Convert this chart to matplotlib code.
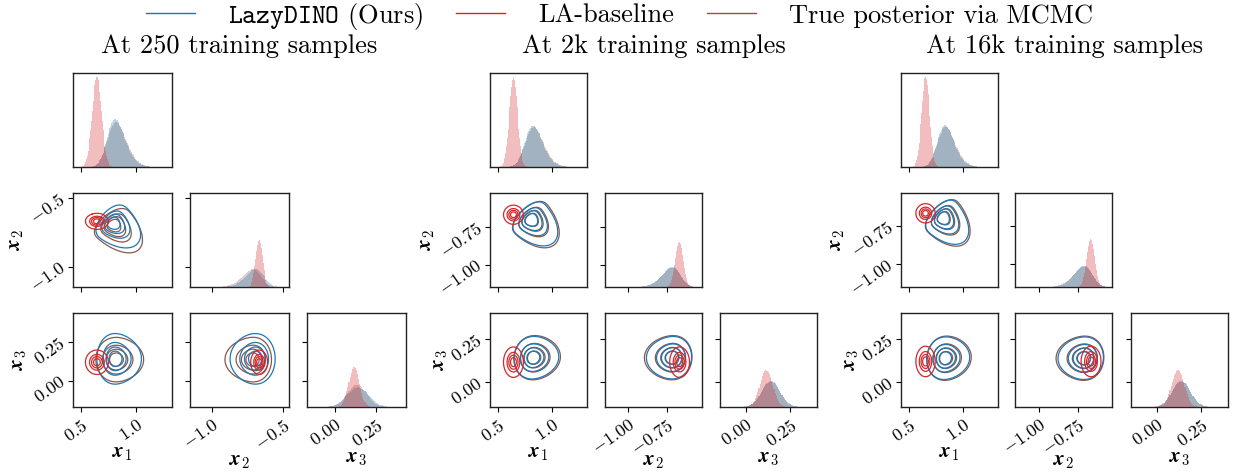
import math
import numpy as np
import matplotlib
matplotlib.use("Agg")
import matplotlib.pyplot as plt
from matplotlib.lines import Line2D

plt.rcParams['mathtext.fontset'] = 'cm'
plt.rcParams['font.family'] = 'serif'
plt.rcParams['font.serif'] = ['cmr10']
plt.rcParams['axes.formatter.use_mathtext'] = True
plt.rcParams['axes.unicode_minus'] = False

# ---- posterior summaries (mode, scale, correlation r12 r13 r23, skew shape) ----
panel_titles = ["At 250 training samples", "At 2k training samples", "At 16k training samples"]
method_labels = [r"$\mathtt{LazyDINO}$ (Ours)", "LA-baseline", "True posterior via MCMC"]
method_colors = ["#1f77b4", "#d62728", "#8c564b"]

mode_lazydino = [[0.79, -0.680, 0.140], [0.805, -0.700, 0.140], [0.815, -0.695, 0.137]]
scale_lazydino = [[0.115, 0.085, 0.066], [0.115, 0.082, 0.050], [0.110, 0.082, 0.050]]
corr_lazydino = [[-0.55, 0.0, 0.0], [-0.55, 0.05, 0.0], [-0.55, 0.05, 0.0]]
shape_lazydino = [[2.5, -2.0, 0.0], [2.5, -2.5, 0.0], [2.5, -2.5, 0.0]]

mode_la = [[0.645, -0.668, 0.118], [0.645, -0.668, 0.115], [0.655, -0.665, 0.119]]
scale_la = [[0.042, 0.024, 0.032], [0.037, 0.026, 0.036], [0.036, 0.026, 0.036]]
corr_la = [[0.0, 0.0, 0.0], [0.0, 0.0, 0.0], [0.0, 0.0, 0.0]]
shape_la = [[0.0, 0.0, 0.0], [0.0, 0.0, 0.0], [0.0, 0.0, 0.0]]

mode_mcmc = [[0.79, -0.690, 0.135], [0.805, -0.700, 0.140], [0.815, -0.695, 0.137]]
scale_mcmc = [[0.120, 0.095, 0.058], [0.118, 0.088, 0.052], [0.113, 0.088, 0.052]]
corr_mcmc = [[-0.6, 0.0, 0.0], [-0.55, 0.05, 0.0], [-0.55, 0.05, 0.0]]
shape_mcmc = [[2.5, -3.0, 0.0], [2.5, -2.8, 0.0], [2.5, -2.8, 0.0]]

# axis limits and ticks for x1, x2, x3 in each panel
lims = [
    [(0.43, 1.32), (-1.15, -0.46), (-0.17, 0.435)],
    [(0.43, 1.32), (-1.15, -0.523), (-0.145, 0.40)],
    [(0.43, 1.32), (-1.155, -0.53), (-0.145, 0.40)],
]
ticks = [
    [[0.5, 1.0], [-1.0, -0.5], [0.0, 0.25]],
    [[0.5, 1.0], [-1.0, -0.75], [0.0, 0.25]],
    [[0.5, 1.0], [-1.0, -0.75], [0.0, 0.25]],
]
tick_fmt = [["%.1f", "%.1f", "%.2f"], ["%.1f", "%.2f", "%.2f"], ["%.1f", "%.2f", "%.2f"]]
# height of the LA peak as a fraction of each diagonal panel
diag_peak_frac = [[0.96, 0.50, 0.43], [0.96, 0.48, 0.39], [0.96, 0.51, 0.39]]
var_labels = [r"$\boldsymbol{x}_1$", r"$\boldsymbol{x}_2$", r"$\boldsymbol{x}_3$"]

# evaluation grid (bin edges double as histogram bins)
edges = [np.arange(0.30, 1.45, 0.0075), np.arange(-1.30, -0.35, 0.0065), np.arange(-0.30, 0.55, 0.0065)]
centers = [0.5 * (e[1:] + e[:-1]) for e in edges]
masses = [0.95, 0.7125, 0.475, 0.2375]


def erf(x):
    s = np.sign(x)
    x = np.abs(x)
    t = 1.0 / (1.0 + 0.3275911 * x)
    y = 1.0 - (((((1.061405429 * t - 1.453152027) * t) + 1.421413741) * t - 0.284496736) * t + 0.254829592) * t * np.exp(-x * x)
    return s * y


def skew_normal(pts, loc, scale, corr, shape):
    r12, r13, r23 = corr
    R = np.array([[1, r12, r13], [r12, 1, r23], [r13, r23, 1]])
    Ri = np.linalg.inv(R)
    z = [(pts[0] - loc[0]) / scale[0], (pts[1] - loc[1]) / scale[1], (pts[2] - loc[2]) / scale[2]]
    z = [z[0][:, None, None], z[1][None, :, None], z[2][None, None, :]]
    q = 0
    lin = 0
    for i in range(3):
        lin = lin + shape[i] * z[i]
        for j in range(3):
            q = q + Ri[i, j] * z[i] * z[j]
    return np.exp(-0.5 * q) * (1 + erf(lin / math.sqrt(2)))


def density(mode, scale, corr, shape):
    s = np.linspace(-2.5, 2.5, 81)
    d0 = skew_normal([s, s, s], [0, 0, 0], [1, 1, 1], corr, shape)
    idx = np.unravel_index(np.argmax(d0), d0.shape)
    off = np.array([s[i] for i in idx])
    loc = np.array(mode) - off * np.array(scale)
    d = skew_normal(centers, loc, scale, corr, shape)
    return d / d.sum()


def iso_levels(p):
    flat = np.sort(p.ravel())[::-1]
    c = np.cumsum(flat) / flat.sum()
    lv = [flat[min(np.searchsorted(c, m), len(flat) - 1)] for m in masses]
    return sorted(lv)


W, H = 1239, 472
fig = plt.figure(figsize=(W / 100, H / 100), dpi=100)


def rect(left, top, w, h):
    return [left / W, 1 - (top + h) / H, w / W, h / H]


col_lefts = [[73, 190, 307], [490, 605, 720], [901, 1015, 1131]]
col_w = [99, 97, 97]
row_tops = [73, 193, 313]
row_h = 94
xlabel_y = [-0.50, -0.59, -0.55]
ylabel_x = [[-0.57, -0.54], [-0.64, -0.50], [-0.65, -0.50]]

params = [
    (mode_lazydino, scale_lazydino, corr_lazydino, shape_lazydino),
    (mode_la, scale_la, corr_la, shape_la),
    (mode_mcmc, scale_mcmc, corr_mcmc, shape_mcmc),
]
draw_order = [2, 0, 1]


def style_ticks(ax, axis, vals, fmt, labels):
    if axis == 'x':
        ax.set_xticks(vals)
        if labels:
            ax.set_xticklabels([r"$%s$" % (fmt % v) for v in vals], fontsize=13)
            for t in ax.get_xticklabels():
                t.set_rotation(35)
                t.set_rotation_mode('anchor')
                t.set_ha('right')
                t.set_va('top')
        else:
            ax.set_xticklabels([])
    else:
        ax.set_yticks(vals)
        if labels:
            ax.set_yticklabels([r"$%s$" % (fmt % v) for v in vals], fontsize=13)
            for t in ax.get_yticklabels():
                t.set_rotation(35)
                t.set_rotation_mode('anchor')
                t.set_ha('right')
                t.set_va('center')
        else:
            ax.set_yticklabels([])


for p in range(3):
    dens = []
    for k in range(3):
        mo, sc, co, sh = params[k]
        dens.append(density(mo[p], sc[p], co[p], sh[p]))
    lim = lims[p]
    for i in range(3):
        for j in range(i + 1):
            ax = fig.add_axes(rect(col_lefts[p][j], row_tops[i], col_w[p], row_h))
            for sp in ax.spines.values():
                sp.set_linewidth(1.0)
                sp.set_color('#222222')
            ax.set_xlim(lim[j])
            style_ticks(ax, 'x', ticks[p][j], tick_fmt[p][j], i == 2)
            if i == j:
                # marginal histogram
                if i == 0:
                    hax = ax
                    ax.set_yticks([])
                else:
                    ax.set_ylim(lim[i])
                    style_ticks(ax, 'y', ticks[p][i], tick_fmt[p][i], False)
                    hax = ax.twinx()
                    hax.set_yticks([])
                    for sp in hax.spines.values():
                        sp.set_visible(False)
                others = tuple(a for a in range(3) if a != i)
                peak = 0
                for k in draw_order:
                    m = dens[k].sum(axis=others)
                    m = m / (edges[i][1] - edges[i][0])
                    hax.stairs(m, edges[i], fill=True, color=method_colors[k], alpha=0.3, linewidth=0)
                    if k == 1:
                        peak = m.max()
                hax.set_ylim(0, peak / diag_peak_frac[p][i])
                hax.set_xlim(lim[j])
            else:
                ax.set_ylim(lim[i])
                style_ticks(ax, 'y', ticks[p][i], tick_fmt[p][i], j == 0)
                other = [a for a in range(3) if a not in (i, j)][0]
                for k in draw_order:
                    m2 = dens[k].sum(axis=other)  # axes ordered (j, i)
                    ax.contour(centers[j], centers[i], m2.T, levels=iso_levels(m2),
                               colors=method_colors[k], linewidths=0.9)
            if i == 2:
                ax.set_xlabel(var_labels[j], fontsize=15, va='center')
                ax.xaxis.set_label_coords(0.5, xlabel_y[j])
            if j == 0 and i > 0:
                ax.set_ylabel(var_labels[i], fontsize=15, va='center')
                ax.yaxis.set_label_coords(ylabel_x[p][i - 1], 0.5)
    center = (col_lefts[p][0] + col_lefts[p][2] + col_w[p]) / 2
    fig.text(center / W, 1 - 53 / H, panel_titles[p], fontsize=19, ha='center', va='baseline')

handles = [Line2D([], [], color=c, lw=1.0) for c in method_colors]
fig.legend(handles, method_labels, loc='center', bbox_to_anchor=(0.5, 1 - 16 / H), ncol=3,
           frameon=False, fontsize=19, handlelength=1.85, handletextpad=1.25, columnspacing=1.25,
           borderpad=0, borderaxespad=0)

fig.savefig("out.png", dpi=100)
